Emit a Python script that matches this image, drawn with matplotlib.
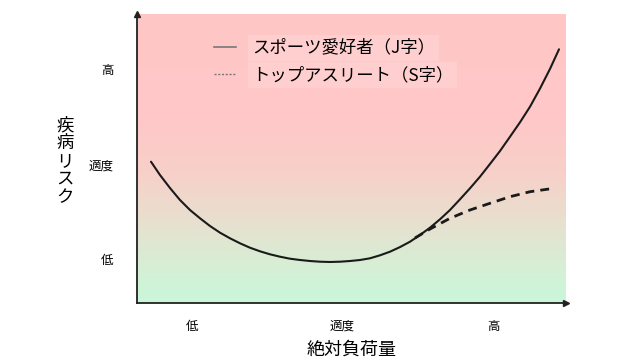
import numpy as np
import matplotlib
matplotlib.use("Agg")
import matplotlib.pyplot as plt
from matplotlib.colors import LinearSegmentedColormap
from matplotlib.lines import Line2D

plt.rcParams['font.family'] = ['Noto Sans CJK JP', 'DejaVu Sans']

# ---- data (conceptual curves) ----
load_j = [0.326, 0.536, 0.769, 1.002, 1.235, 1.469, 1.702, 1.935, 2.168, 2.401,
          2.634, 2.867, 3.100, 3.333, 3.566, 3.800, 4.033, 4.266, 4.499, 4.732,
          4.965, 5.198, 5.431, 5.664, 5.897, 6.130, 6.364, 6.597, 6.830, 7.063,
          7.296, 7.529, 7.762, 7.995, 8.228, 8.462, 8.695, 8.928, 9.161, 9.394,
          9.627, 9.837]
risk_j = [4.889, 4.429, 3.979, 3.564, 3.218, 2.931, 2.664, 2.433, 2.239, 2.066,
          1.913, 1.789, 1.685, 1.602, 1.533, 1.488, 1.453, 1.429, 1.419, 1.429,
          1.453, 1.488, 1.547, 1.650, 1.775, 1.935, 2.121, 2.353, 2.606, 2.896,
          3.218, 3.588, 3.969, 4.370, 4.810, 5.260, 5.754, 6.253, 6.792, 7.420,
          8.100, 8.779]

load_s = [6.48, 6.83, 7.296, 7.762, 8.228, 8.695, 9.161, 9.720]
risk_s = [2.25, 2.56, 2.931, 3.218, 3.450, 3.678, 3.851, 3.969]

x_tick_pos = [1.28, 4.77, 8.32]
x_tick_labels = ['低', '適度', '高']
y_tick_pos = [1.52, 4.79, 8.10]
y_tick_labels = ['低', '適度', '高']

series_labels = ['スポーツ愛好者（J字）', 'トップアスリート（S字）']
x_label = '絶対負荷量'
y_label = '疾病リスク'

# ---- figure ----
fig = plt.figure(figsize=(6.4, 3.6), dpi=100)
ax = fig.add_axes([137/640, (360-303)/360, (566-137)/640, (303-14)/360])
ax.set_xlim(0, 10)
ax.set_ylim(0, 10)

# background gradient
cmap = LinearSegmentedColormap.from_list('bg', [
    (0.0, '#C9F7DA'),
    (0.10, '#D3F1D6'),
    (0.28, '#E8E0CF'),
    (0.45, '#F7D0C9'),
    (0.62, '#FFC8C8'),
    (1.0, '#FFC6C6'),
])
grad = np.linspace(0, 1, 256).reshape(-1, 1)
ax.imshow(grad, extent=[0, 10, 0, 10], origin='lower', aspect='auto',
          cmap=cmap, zorder=0, interpolation='bicubic')

ax.plot(load_j, risk_j, color='#1a1a1a', lw=1.5, zorder=3,
        solid_capstyle='round', solid_joinstyle='round')
ax.plot(load_s, risk_s, color='#1a1a1a', lw=2.0, ls=(0, (3.2, 2.2)), zorder=3)

# axes: only left & bottom with arrows
for s in ['top', 'right']:
    ax.spines[s].set_visible(False)
for s in ['left', 'bottom']:
    ax.spines[s].set_color('#222222')
    ax.spines[s].set_linewidth(1.3)
ax.plot(1, 0, '>', color='#222222', ms=5, transform=ax.transAxes, clip_on=False)
ax.plot(0, 1, '^', color='#222222', ms=5, transform=ax.transAxes, clip_on=False)

ax.set_xticks(x_tick_pos)
ax.set_xticklabels(x_tick_labels, fontsize=9)
ax.set_yticks(y_tick_pos)
ax.set_yticklabels(y_tick_labels, fontsize=9)
ax.tick_params(length=0, pad=12)
ax.tick_params(axis='y', pad=17)

ax.set_xlabel(x_label, fontsize=13, labelpad=6)
fig.text(65/640, 1 - 161/360, '\n'.join(y_label), fontsize=12.5,
         ha='center', va='center', linespacing=1.0)

handles = [Line2D([], [], color='#777777', lw=1.2),
           Line2D([], [], color='#777777', lw=1.0, ls=(0, (1.5, 1.2)))]
leg = ax.legend(handles, series_labels, loc='upper left',
                bbox_to_anchor=((205-137)/429, 1 - (30-14)/289),
                frameon=False, fontsize=12.5, handlelength=1.3,
                handletextpad=0.9, labelspacing=0.55, borderpad=0.0)
for t in leg.get_texts():
    t.set_bbox(dict(facecolor='#FFD2D2', edgecolor='none', pad=3, alpha=0.8))

fig.savefig('out.png', dpi=100)
